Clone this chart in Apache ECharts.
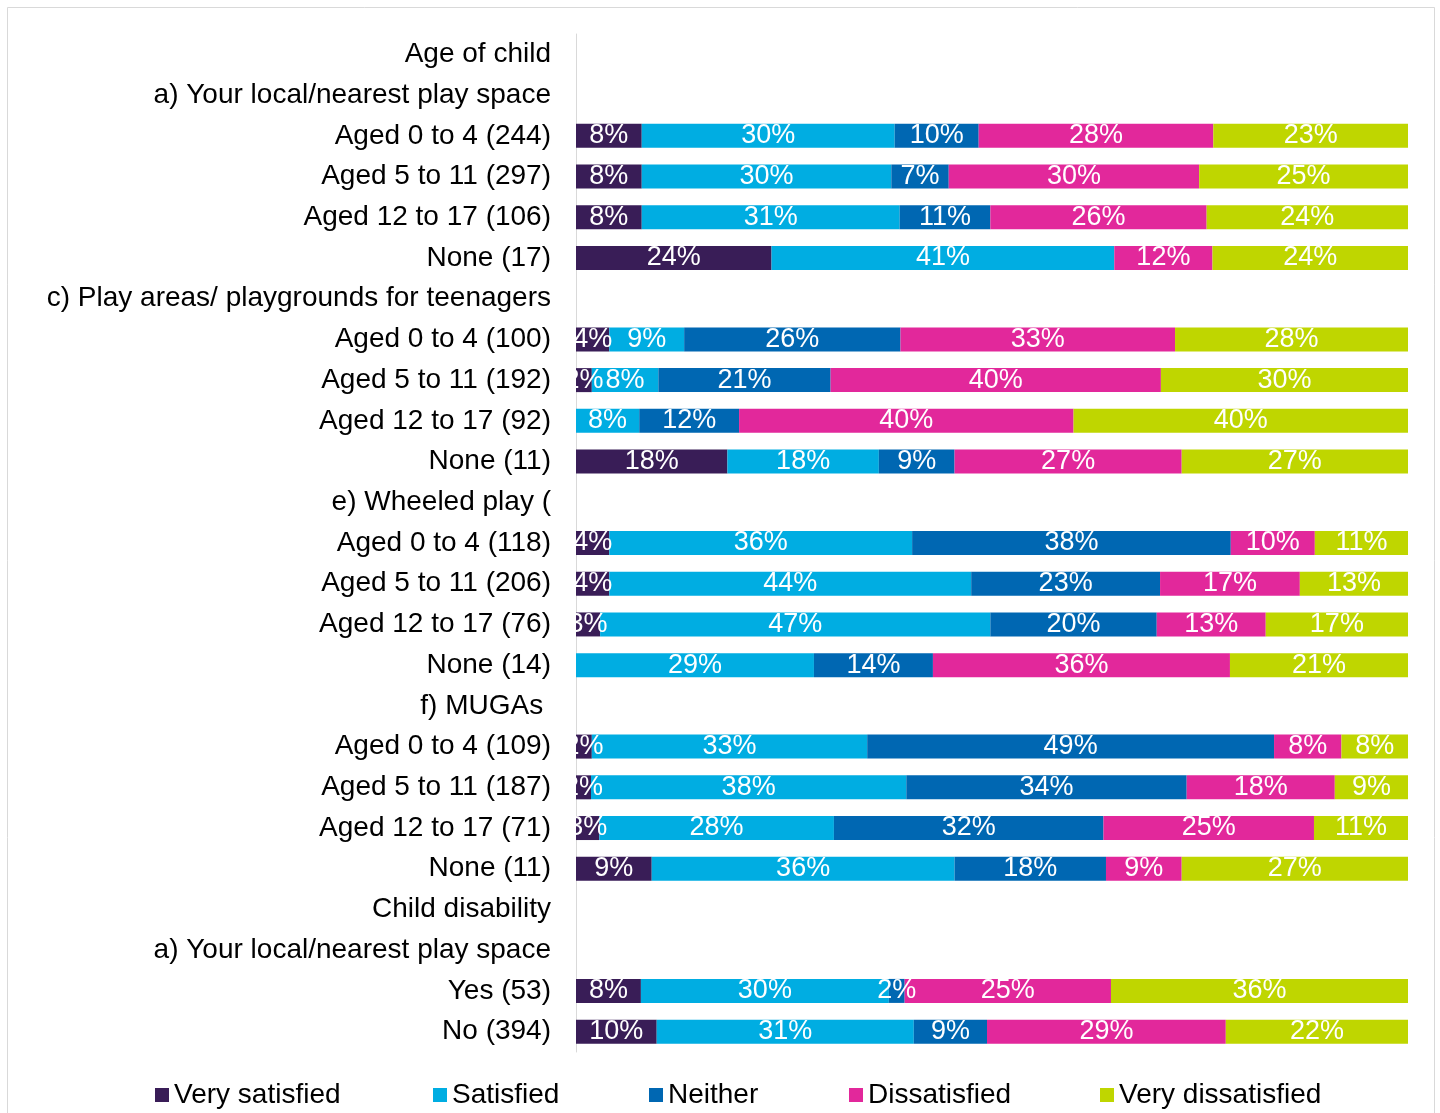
<!DOCTYPE html>
<html>
<head>
<meta charset="utf-8">
<script src="https://cdn.jsdelivr.net/npm/echarts@6/dist/echarts.min.js"></script>
<style>
  html, body { margin: 0; padding: 0; background: #fff; }
  #chart { width: 1440px; height: 1113px; }
</style>
</head>
<body>
<div id="chart"></div>
<script>
// row labels, top to bottom (group headings have no bars)
var categories = [
  'Age of child',
  'a) Your local/nearest play space',
  'Aged 0 to 4 (244)',
  'Aged 5 to 11 (297)',
  'Aged 12 to 17 (106)',
  'None (17)',
  'c) Play areas/ playgrounds for teenagers',
  'Aged 0 to 4 (100)',
  'Aged 5 to 11 (192)',
  'Aged 12 to 17 (92)',
  'None (11)',
  'e) Wheeled play (',
  'Aged 0 to 4 (118)',
  'Aged 5 to 11 (206)',
  'Aged 12 to 17 (76)',
  'None (14)',
  'f) MUGAs ',
  'Aged 0 to 4 (109)',
  'Aged 5 to 11 (187)',
  'Aged 12 to 17 (71)',
  'None (11)',
  'Child disability',
  'a) Your local/nearest play space',
  'Yes (53)',
  'No (394)'
]

var seriesNames = ['Very satisfied', 'Satisfied', 'Neither', 'Dissatisfied', 'Very dissatisfied']
var seriesColors = ['#391d57', '#00ade2', '#0067b2', '#e2289b', '#bfd600']

// percentages per row (null = heading row)
var verySatisfied = [null, null, 7.9, 7.9, 7.9, 23.5, null, 4.0, 1.9, 0, 18.2, null, 4.0, 4.0, 2.9, 0, null, 1.9, 1.8, 2.8, 9.1, null, null, 7.8, 9.7]
var satisfied = [null, null, 30.4, 30.0, 31.0, 41.2, null, 9.0, 8.0, 7.6, 18.2, null, 36.4, 43.5, 46.9, 28.6, null, 33.1, 37.9, 28.2, 36.4, null, null, 29.8, 30.9]
var neither = [null, null, 10.1, 6.9, 10.9, 0, null, 26.0, 20.7, 12.0, 9.1, null, 38.3, 22.7, 20.0, 14.3, null, 48.9, 33.7, 32.4, 18.2, null, null, 1.9, 8.8]
var dissatisfied = [null, null, 28.2, 30.1, 26.0, 11.8, null, 33.0, 39.7, 40.2, 27.3, null, 10.1, 16.8, 13.1, 35.7, null, 8.1, 17.8, 25.3, 9.1, null, null, 24.8, 28.7]
var veryDissatisfied = [null, null, 23.4, 25.1, 24.2, 23.5, null, 28.0, 29.7, 40.2, 27.3, null, 11.2, 13.0, 17.1, 21.4, null, 8.0, 8.8, 11.3, 27.3, null, null, 35.7, 21.9]

var seriesData = [verySatisfied, satisfied, neither, dissatisfied, veryDissatisfied]

var legendLeft = [150, 428, 644, 844, 1095]

var chart = echarts.init(document.getElementById('chart'))

var series = []
var legends = []
for (let i = 0; i < seriesNames.length; i++) {
  series.push({
    name: seriesNames[i],
    type: 'bar',
    stack: 'total',
    barWidth: 24,
    itemStyle: { color: seriesColors[i] },
    label: {
      show: true,
      position: 'inside',
      color: '#fff',
      fontSize: 27,
      fontFamily: 'Liberation Sans, Arial, sans-serif',
      formatter: function (p) {
        if (!p.value) return ''
        return Math.round(p.value) + '%'
      }
    },
    emphasis: { disabled: true },
    data: seriesData[i]
  })
  legends.push({
    data: [seriesNames[i]],
    left: legendLeft[i],
    top: 1076,
    icon: 'rect',
    itemWidth: 14,
    itemHeight: 14,
    itemGap: 6,
    selectedMode: false,
    textStyle: {
      fontSize: 28,
      color: '#000',
      fontFamily: 'Liberation Sans, Arial, sans-serif'
    }
  })
}

var option = {
  animation: false,
  backgroundColor: '#fff',
  textStyle: { fontFamily: 'Liberation Sans, Arial, sans-serif' },
  grid: {
    left: 576,
    right: 32,
    top: 34,
    bottom: 61,
    containLabel: false
  },
  xAxis: {
    type: 'value',
    min: 0,
    max: 100,
    show: false
  },
  yAxis: {
    type: 'category',
    inverse: true,
    data: categories,
    axisTick: { show: false },
    axisLine: { show: true, lineStyle: { color: '#d9d9d9', width: 1 } },
    axisLabel: {
      interval: 0,
      margin: 25,
      fontSize: 28,
      color: '#000',
      fontFamily: 'Liberation Sans, Arial, sans-serif'
    }
  },
  legend: legends,
  series: series,
  graphic: [
    {
      type: 'rect',
      z: 100,
      silent: true,
      shape: { x: 7.5, y: 7.5, width: 1427, height: 1120 },
      style: { fill: 'none', stroke: '#d9d9d9', lineWidth: 1 }
    },
    {
      // hides the part of small-segment labels that runs past the axis
      type: 'rect',
      z: 100,
      silent: true,
      shape: { x: 553, y: 34, width: 22.5, height: 1018 },
      style: { fill: '#fff' }
    }
  ]
}

option && chart.setOption(option)
</script>
</body>
</html>
